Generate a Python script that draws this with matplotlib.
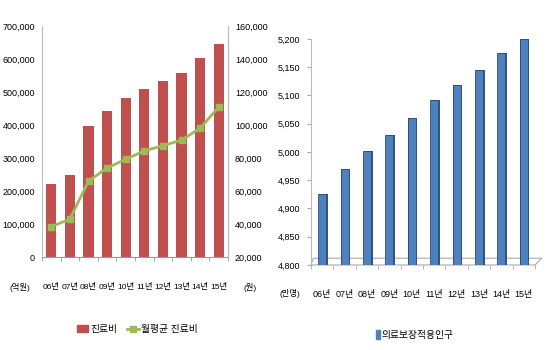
import matplotlib.pyplot as plt
import matplotlib.ticker as mticker
from matplotlib.patches import Polygon, Patch
from matplotlib.lines import Line2D
import numpy as np

plt.rcParams['font.family'] = ['Liberation Sans', 'Noto Sans CJK KR', 'DejaVu Sans']

years = ['06년', '07년', '08년', '09년', '10년', '11년', '12년', '13년', '14년', '15년']
cost = [222000, 248000, 396000, 442000, 482000, 508000, 534000, 559000, 602000, 646000]
monthly_cost = [38400, 43000, 66000, 74000, 79200, 84400, 87400, 90900, 98000, 111000]
population = [4925, 4970, 5002, 5030, 5060, 5092, 5118, 5145, 5176, 5200]

fmt = mticker.FuncFormatter(lambda v, p: f'{int(v):,}')
x = np.arange(len(years))

fig = plt.figure(figsize=(5.5, 3.5), dpi=100)

# left chart
ax1 = fig.add_axes([0.0764, 0.2657, 0.3382, 0.66])
ax1.bar(x, cost, width=0.55, color='#C0504D', zorder=2)
ax1.set_ylim(0, 700000)
ax1.set_yticks(np.arange(0, 700001, 100000))
ax1.yaxis.set_major_formatter(fmt)
ax1.set_xlim(-0.5, 9.5)
ax1.set_xticks(x)
ax1.set_xticklabels(years)
ax1.set_xticks(np.arange(-0.5, 10, 1), minor=True)
ax1.tick_params(axis='x', which='major', length=0, pad=19, labelsize=6)
ax1.tick_params(axis='x', which='minor', length=3, color='#999999')
ax1.tick_params(axis='y', length=0, pad=5, labelsize=6.5)
ax1.spines['top'].set_visible(False)
ax1.spines['left'].set_color('#BBBBBB')
ax1.spines['bottom'].set_color('#999999')
ax1.spines['right'].set_color('#BBBBBB')

ax2 = ax1.twinx()
ax2.plot(x, monthly_cost, color='#9BBB59', lw=2, marker='s', ms=4, zorder=3)
ax2.set_ylim(20000, 160000)
ax2.set_yticks(np.arange(20000, 160001, 20000))
ax2.yaxis.set_major_formatter(fmt)
ax2.tick_params(axis='y', length=0, pad=5, labelsize=6.5)
ax2.spines['top'].set_visible(False)
ax2.spines['left'].set_visible(False)
ax2.spines['bottom'].set_visible(False)
ax2.spines['right'].set_color('#BBBBBB')

fig.text(20 / 550, 1 - 287 / 350, '(억원)', fontsize=6, ha='center', va='center')
fig.text(250 / 550, 1 - 287 / 350, '(원)', fontsize=6, ha='center', va='center')

h1 = [Patch(color='#C0504D'),
      Line2D([], [], color='#9BBB59', lw=2, marker='s', ms=4)]
fig.legend(h1, ['진료비', '월평균 진료비'], loc='center', bbox_to_anchor=(137 / 550, 1 - 329 / 350),
           ncol=2, frameon=False, fontsize=7, handlelength=1.2, handletextpad=0.2, columnspacing=1.0)

# right chart
ax3 = fig.add_axes([0.5655, 0.2429, 0.4073, 0.6457])
floor = Polygon([[0, 0], [0.01, 0.03], [1.03, 0.03], [1.0, 0]], closed=True, transform=ax3.transAxes,
                facecolor='white', edgecolor='#AAAAAA', lw=0.8, clip_on=False, zorder=1)
ax3.add_patch(floor)
ax3.bar(x + 0.05, [p - 4800 for p in population], bottom=4800, width=0.4, color='#2E5A8F', zorder=2)
ax3.bar(x, [p - 4800 for p in population], bottom=4800, width=0.36, color='#4F81BD',
        edgecolor='#2B4C7E', lw=0.6, zorder=3)
ax3.set_ylim(4800, 5200)
ax3.set_yticks(np.arange(4800, 5201, 50))
ax3.yaxis.set_major_formatter(fmt)
ax3.set_xlim(-0.5, 9.5)
ax3.set_xticks(x)
ax3.set_xticklabels(years)
ax3.set_xticks(np.arange(-0.5, 10, 1), minor=True)
ax3.tick_params(axis='x', which='major', length=0, pad=18, labelsize=6.5)
ax3.tick_params(axis='x', which='minor', length=3, color='#AAAAAA')
ax3.tick_params(axis='y', length=3, color='#AAAAAA', pad=5, labelsize=6.5)
for s in ['top', 'right', 'bottom']:
    ax3.spines[s].set_visible(False)
ax3.spines['left'].set_color('#BBBBBB')

fig.text(290 / 550, 1 - 293 / 350, '(만명)', fontsize=6, ha='center', va='center')

fig.legend([Patch(color='#4F81BD')], ['의료보장적용인구'], loc='center',
           bbox_to_anchor=(415 / 550, 1 - 335 / 350), frameon=False, fontsize=7,
           handlelength=0.4, handleheight=1.0, handletextpad=0.2)

plt.savefig('out.png', dpi=100)
